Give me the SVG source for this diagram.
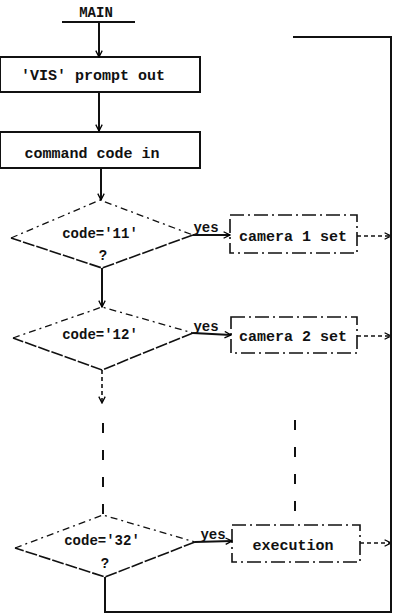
<svg xmlns="http://www.w3.org/2000/svg" width="393" height="614" viewBox="0 0 393 614">
<defs>
<marker id="ah" viewBox="0 0 10 10" refX="9" refY="5" markerWidth="8" markerHeight="8" markerUnits="userSpaceOnUse" orient="auto">
<polyline points="1,1 9,5 1,9" fill="none" stroke="#000" stroke-width="1.6"/>
</marker>
</defs>
<style>
text{font-family:"Liberation Mono","DejaVu Sans Mono",monospace;font-weight:bold;fill:#111;}
.t{font-size:15px;}
.s{font-size:14px;}
.box{fill:none;stroke:#111;stroke-width:2;}
.dbox{fill:none;stroke:#111;stroke-width:1.6;stroke-dasharray:14 4 2 4;}
.ln{fill:none;stroke:#111;stroke-width:2;}
.dl{fill:none;stroke:#111;stroke-width:1.6;stroke-dasharray:4 3;}
.dm{fill:none;stroke:#111;stroke-width:1.3;stroke-dasharray:7 4 2 4;}
.dms{fill:none;stroke:#111;stroke-width:1.6;stroke-dasharray:12 2;}
</style>
<g id="main">
<text class="s" x="96" y="17" text-anchor="middle">MAIN</text>
<line class="ln" x1="62" y1="22" x2="135" y2="22"/>
</g>
<g id="vis">
<rect class="box" x="0" y="57" width="200" height="35"/>
<text class="t" x="93" y="80" text-anchor="middle">'VIS' prompt out</text>
</g>
<g id="cmd">
<rect class="box" x="0" y="132" width="200" height="36"/>
<text class="t" x="92" y="158" text-anchor="middle">command code in</text>
</g>
<g id="d11">
<polyline class="dm" points="11,238 100,200 193,235"/>
<polyline class="dms" points="193,235 102,268 11,238"/>
<text class="s" x="100" y="238" text-anchor="middle">code='11'</text>
<text class="s" x="103" y="260" text-anchor="middle">?</text>
</g>
<g id="d12">
<polyline class="dm" points="13,338 102,307 193,333"/>
<polyline class="dms" points="193,333 102,370 13,338"/>
<text class="s" x="100" y="339" text-anchor="middle">code='12'</text>
</g>
<g id="d32">
<polyline class="dm" points="15,548 103,515 195,542"/>
<polyline class="dms" points="195,542 105,577 15,548"/>
<text class="s" x="102" y="545" text-anchor="middle">code='32'</text>
<text class="s" x="105" y="568" text-anchor="middle">?</text>
</g>
<g id="cam1">
<rect class="dbox" x="230" y="215" width="127" height="38"/>
<text class="t" x="293" y="241" text-anchor="middle">camera 1 set</text>
</g>
<g id="cam2">
<rect class="dbox" x="231" y="317" width="126" height="36"/>
<text class="t" x="293" y="341" text-anchor="middle">camera 2 set</text>
</g>
<g id="exec">
<rect class="dbox" x="232" y="525" width="128" height="37"/>
<text class="t" x="293" y="550" text-anchor="middle">execution</text>
</g>
<g id="connectors">
<line class="ln" x1="99" y1="22" x2="99" y2="57" marker-end="url(#ah)"/>
<line class="ln" x1="99" y1="92" x2="99" y2="131" marker-end="url(#ah)"/>
<line class="ln" x1="101" y1="168" x2="101" y2="200" marker-end="url(#ah)"/>
<line class="ln" x1="102" y1="268" x2="102" y2="307" marker-end="url(#ah)"/>
<line class="dl" x1="102" y1="370" x2="102" y2="403" marker-end="url(#ah)"/>
<line class="ln" x1="103" y1="423" x2="103" y2="515" stroke-dasharray="10 17"/>
<line class="ln" x1="295" y1="420" x2="295" y2="524" stroke-dasharray="10 17"/>
<line class="ln" x1="193" y1="235" x2="230" y2="235" marker-end="url(#ah)"/>
<text class="s" x="206" y="232" text-anchor="middle">yes</text>
<line class="ln" x1="193" y1="333" x2="231" y2="335" marker-end="url(#ah)"/>
<text class="s" x="206" y="331" text-anchor="middle">yes</text>
<line class="ln" x1="195" y1="542" x2="232" y2="541" marker-end="url(#ah)"/>
<text class="s" x="213" y="539" text-anchor="middle">yes</text>
<line class="dl" x1="357" y1="236" x2="391" y2="236" marker-end="url(#ah)"/>
<line class="dl" x1="357" y1="336" x2="391" y2="336" marker-end="url(#ah)"/>
<line class="dl" x1="360" y1="543" x2="391" y2="543" marker-end="url(#ah)"/>
<polyline class="ln" points="105,577 105,612 391,612 391,37 293,37"/>
</g>
</svg>
